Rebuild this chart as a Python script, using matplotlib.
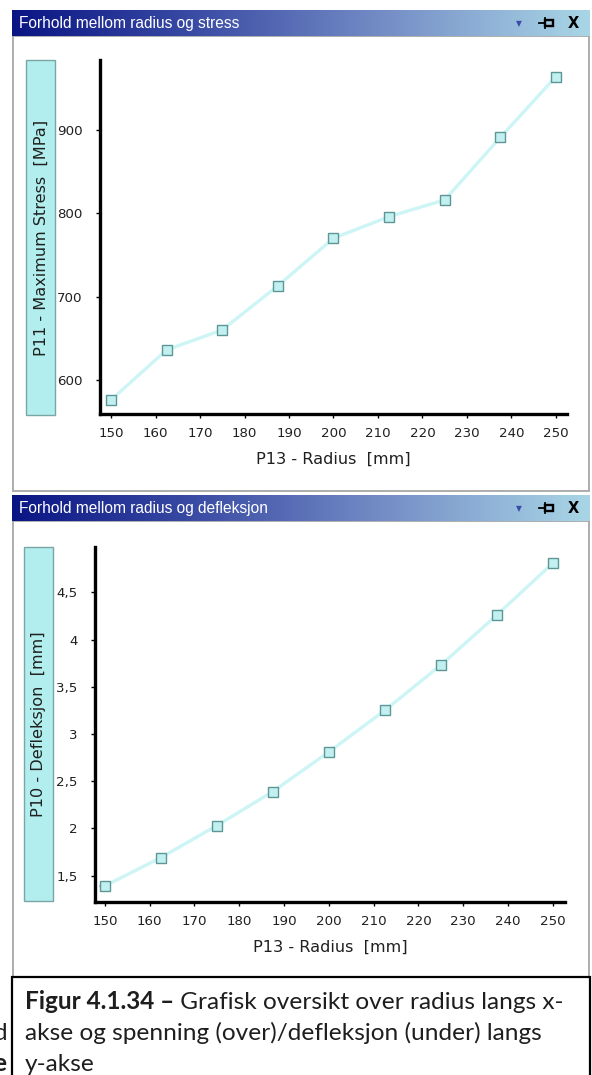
import numpy as np
import matplotlib
matplotlib.use("Agg")
import matplotlib.pyplot as plt
from matplotlib.colors import LinearSegmentedColormap
from matplotlib.patches import Rectangle

# ---- data ----
radius = [150, 162.5, 175, 187.5, 200, 212.5, 225, 237.5, 250]
stress = [576, 636, 660, 713, 770, 796, 816, 891, 964]
deflection = [1.39, 1.69, 2.03, 2.39, 2.81, 3.25, 3.73, 4.26, 4.81]

radius_ticks = [150, 160, 170, 180, 190, 200, 210, 220, 230, 240, 250]
stress_ticks = [600, 700, 800, 900]
stress_tick_labels = ["600", "700", "800", "900"]
defl_ticks = [1.5, 2, 2.5, 3, 3.5, 4, 4.5]
defl_tick_labels = ["1,5", "2", "2,5", "3", "3,5", "4", "4,5"]

title_top = "Forhold mellom radius og stress"
title_bottom = "Forhold mellom radius og defleksjon"
xlabel = "P13 - Radius  [mm]"
ylabel_top = "P11 - Maximum Stress  [MPa]"
ylabel_bottom = "P10 - Defleksjon  [mm]"
caption_bold = "Figur 4.1.34 \u2013"
caption_line1 = " Grafisk oversikt over radius langs x-"
caption_line2 = "akse og spenning (over)/defleksjon (under) langs"
caption_line3 = "y-akse"

W, H = 592, 1075
fig = plt.figure(figsize=(W / 100, H / 100), dpi=100)
fig.patch.set_facecolor("white")

# background canvas in pixel units (origin top-left)
bg = fig.add_axes([0, 0, 1, 1])
bg.axis("off")

bar_cmap = LinearSegmentedColormap.from_list(
    "bar", ["#0a1584", "#3d4fa6", "#7892c8", "#a9d6e6"])
grad = np.linspace(0, 1, 256).reshape(1, -1)


def window(top, bottom, title):
    # title bar
    bg.imshow(grad, extent=[12, 590, top + 26, top], cmap=bar_cmap,
              aspect="auto", interpolation="bilinear", zorder=1)
    bg.text(19, top + 13.5, title, color="white", fontsize=11.2,
            family="Liberation Sans", va="center", ha="left", zorder=3)
    bg.text(519, top + 13.5, "\u25BC", color="#3a4aa8", fontsize=5.5,
            va="center", ha="center", zorder=3)
    # pin icon
    bg.plot([539, 545], [top + 13, top + 13], color="black", lw=1.3, zorder=3)
    bg.add_patch(Rectangle((545, top + 10), 8, 6, fill=False,
                           edgecolor="black", lw=1.7, zorder=3))
    bg.plot([545, 545], [top + 8, top + 18], color="black", lw=1.3, zorder=3)
    bg.text(573, top + 13.5, "X", color="black", fontsize=10.5, weight="bold",
            va="center", ha="center", zorder=3)
    # body frame
    bg.add_patch(Rectangle((13, top + 26), 576, bottom - top - 26,
                           facecolor="white", edgecolor="#a0a0a0", lw=1.2,
                           zorder=0.5))


window(10, 491, title_top)
window(495, 1090, title_bottom)

# y-label boxes
for (x0, y0, x1, y1, lab) in [(26, 60, 55, 415, ylabel_top),
                              (24, 547, 53, 901, ylabel_bottom)]:
    bg.add_patch(Rectangle((x0, y0), x1 - x0, y1 - y0, facecolor="#b2eeee",
                           edgecolor="#7aa6a6", lw=1.0, zorder=2))
    bg.text((x0 + x1) / 2 + 0.5, (y0 + y1) / 2, lab, rotation=90,
            fontsize=11.6, color="#202020", ha="center", va="center",
            zorder=3)

# caption box
bg.add_patch(Rectangle((12, 977), 578, 110, facecolor="white",
                       edgecolor="black", lw=1.6, zorder=4))
bg.set_xlim(0, W)
bg.set_ylim(H, 0)

cap_font = dict(family="Lato", fontsize=17.6, color="#1e1e1e", zorder=5,
                va="baseline", ha="left")
t_b = bg.text(25, 1009, caption_bold, weight="bold", **cap_font)
fig.canvas.draw()
r = fig.canvas.get_renderer()
bb = t_b.get_window_extent(renderer=r)
x_end = bb.x1  # display px == image px here (x origin left)
bg.text(x_end, 1009, caption_line1, **cap_font)
bg.text(25, 1040, caption_line2, **cap_font)
bg.text(25, 1071, caption_line3, **cap_font)

# fragments of the page text left of the caption
bg.text(-6, 1040, "d", family="Lato", fontsize=17.6, color="#1e1e1e",
        va="baseline", ha="left", zorder=5)
bg.text(-7, 1071, "e", family="Lato", fontsize=17.6, weight="bold",
        color="#1e1e1e", va="baseline", ha="left", zorder=5)


def px_axes(x0, y0, x1, y1):
    return fig.add_axes([x0 / W, 1 - y1 / H, (x1 - x0) / W, (y1 - y0) / H])


def style(ax, xlim, ylim, yticks, ylabels):
    ax.set_facecolor("none")
    ax.set_xlim(*xlim)
    ax.set_ylim(*ylim)
    for s in ("top", "right"):
        ax.spines[s].set_visible(False)
    for s in ("left", "bottom"):
        ax.spines[s].set_linewidth(2.4)
        ax.spines[s].set_color("black")
    ax.set_xticks(radius_ticks)
    ax.set_xticklabels([str(v) for v in radius_ticks])
    ax.set_yticks(yticks)
    ax.set_yticklabels(ylabels)
    ax.tick_params(axis="y", length=3, width=1, pad=9.5, labelsize=9.6,
                   labelcolor="#202020")
    ax.tick_params(axis="x", length=3, width=1, pad=6.5, labelsize=9.6,
                   labelcolor="#202020")
    ax.set_xlabel(xlabel, fontsize=11.6, color="#202020", labelpad=8.5)


def series(ax, x, y, stub):
    ax.plot(x, y, color="#cdf5f5", lw=2.4, zorder=2, solid_capstyle="round")
    ax.plot([x[0] - stub, x[0]], [y[0], y[0]], color="#a9acf2", lw=1.2,
            zorder=1.5)
    ax.plot([x[-1], x[-1] + stub], [y[-1], y[-1]], color="#a9acf2", lw=1.2,
            zorder=1.5)
    ax.plot(x, y, ls="none", marker="s", ms=7, mfc="#c2efef", mec="#5c9696",
            mew=1.0, zorder=3, clip_on=False)


ax1 = px_axes(100, 60, 567, 414)
style(ax1, (147.5, 252.5), (559, 984), stress_ticks, stress_tick_labels)
series(ax1, radius, stress, 1.0)

ax2 = px_axes(95, 547, 565, 902)
style(ax2, (147.8, 252.7), (1.22, 4.98), defl_ticks, defl_tick_labels)
series(ax2, radius, deflection, 1.0)

fig.savefig("out.png", dpi=100)
